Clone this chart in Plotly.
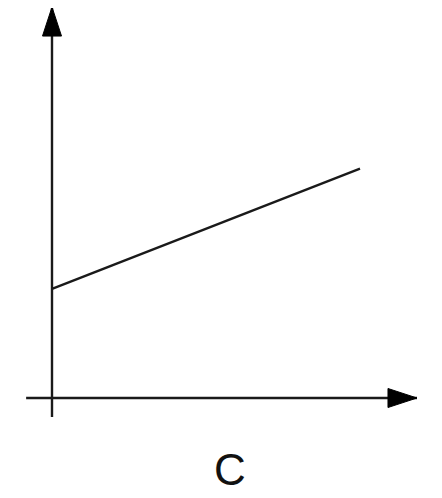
import plotly.graph_objects as go

# straight line on the sketch, in chart units
line_x = [0, 10]
line_y = [3.0, 6.3]
label = "C"

# where the drawn axes stop (chart units)
x_left, x_tip = -0.84, 11.85
y_bottom, y_tip = -0.52, 10.74

# page has an 8px body margin, so draw on a 434x490 figure
W, H = 434, 490
px_x, px_y = 30.8, 36.4      # pixels per unit
org_x, org_y = 44, 390       # origin in figure pixels

ink = "#1a1a1a"
lw = 2.4

fig = go.Figure()
fig.add_trace(go.Scatter(x=line_x, y=line_y, mode="lines",
                         line=dict(color=ink, width=lw), hoverinfo="skip"))

shapes = [
    dict(type="line", x0=x_left, x1=x_tip, y0=0, y1=0,
         line=dict(color=ink, width=lw)),
    dict(type="line", x0=0, x1=0, y0=y_bottom, y1=y_tip,
         line=dict(color=ink, width=lw)),
    # arrow heads, sized in pixels
    dict(type="path", xsizemode="pixel", ysizemode="pixel",
         xanchor=0, yanchor=y_tip, path="M0,0 L-9.5,-29 L9.5,-29 Z",
         fillcolor="black", line=dict(color="black", width=1)),
    dict(type="path", xsizemode="pixel", ysizemode="pixel",
         xanchor=x_tip, yanchor=0, path="M0,0 L-29,9.5 L-29,-9.5 Z",
         fillcolor="black", line=dict(color="black", width=1)),
]

fig.update_layout(
    width=W, height=H,
    margin=dict(l=0, r=0, t=0, b=0),
    paper_bgcolor="white", plot_bgcolor="white",
    showlegend=False,
    shapes=shapes,
    xaxis=dict(range=[-org_x / px_x, (W - org_x) / px_x], visible=False),
    yaxis=dict(range=[-(H - org_y) / px_y, org_y / px_y], visible=False),
    annotations=[dict(text=label, xref="paper", yref="paper",
                      x=222 / W, y=1 - 461 / H, showarrow=False,
                      xanchor="center", yanchor="middle",
                      font=dict(family="Liberation Sans, Arial", size=44,
                                color="#111111"))],
)

fig.write_html("out.html", config={"displayModeBar": False})
